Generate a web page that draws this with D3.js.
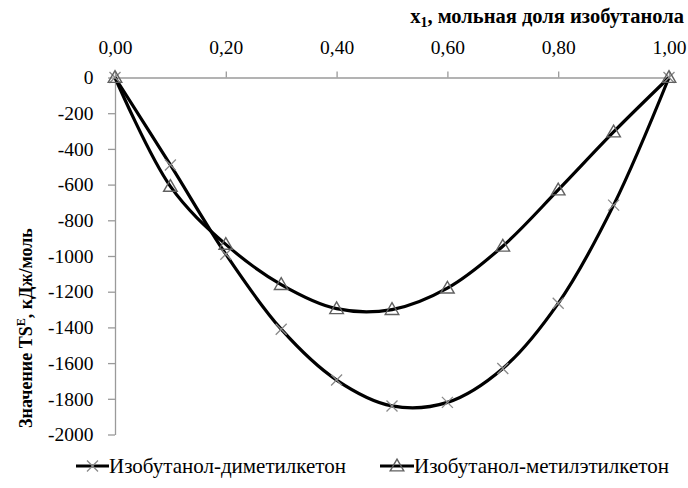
<!DOCTYPE html>
<html>
<head>
<meta charset="utf-8">
<script src="https://cdn.jsdelivr.net/npm/d3@7"></script>
<style>
  html, body { margin: 0; padding: 0; background: #fff; }
  svg { display: block; }
  text { font-family: "Liberation Serif", "Times New Roman", serif; fill: #000; }
</style>
</head>
<body>
<svg id="chart" width="688" height="488"></svg>
<script>
// Mole fraction of isobutanol
const x1 = [0, 0.1, 0.2, 0.3, 0.4, 0.5, 0.6, 0.7, 0.8, 0.9, 1.0];
// TS^E values, J/mol
const dimethylketone = [0, -490, -990, -1410, -1695, -1840, -1820, -1630, -1265, -715, 0];
const methylethylketone = [0, -610, -935, -1160, -1295, -1300, -1180, -945, -630, -305, 0];

const seriesNames = ["Изобутанол-диметилкетон", "Изобутанол-метилэтилкетон"];
const xTicks = [0, 0.2, 0.4, 0.6, 0.8, 1.0];
const yTicks = [0, -200, -400, -600, -800, -1000, -1200, -1400, -1600, -1800, -2000];

const svg = d3.select("#chart");
const plotLeft = 115, plotRight = 669, plotTop = 77.5, plotBottom = 434.5;

const x = d3.scaleLinear().domain([0, 1]).range([plotLeft, plotRight]);
const y = d3.scaleLinear().domain([0, -2000]).range([plotTop, plotBottom]);

const fmt = v => d3.format(".2f")(v).replace(".", ",");
const axisColor = "#9a9a9a";

// top x axis (value 0 line)
const gx = svg.append("g").attr("transform", `translate(0,${plotTop})`)
  .attr("font-family", "Liberation Serif")
  .call(d3.axisTop(x).tickValues(xTicks).tickFormat(fmt).tickSize(6).tickSizeOuter(0));
gx.attr("font-family", "Liberation Serif");
gx.select(".domain").attr("stroke", axisColor).attr("stroke-width", 1.3);
gx.selectAll(".tick line").attr("stroke", axisColor).attr("stroke-width", 1.3);
gx.selectAll(".tick text").attr("font-size", 19.5).attr("y", -24).attr("dy", 0);

// left y axis
const gy = svg.append("g").attr("transform", `translate(${plotLeft},0)`)
  .call(d3.axisLeft(y).tickValues(yTicks).tickFormat(d3.format("d")).tickSize(7).tickSizeOuter(0));
gy.attr("font-family", "Liberation Serif");
gy.select(".domain").attr("stroke", axisColor).attr("stroke-width", 1.3);
gy.selectAll(".tick line").attr("stroke", axisColor).attr("stroke-width", 1.3);
gy.selectAll(".tick text").attr("font-size", 19.5)
  .attr("x", -21.5).text(d => String(d));

// axis titles
const xt = svg.append("text").attr("x", 684).attr("y", 23).attr("text-anchor", "end")
  .attr("font-size", 20.5).attr("font-weight", "bold");
xt.append("tspan").text("x");
xt.append("tspan").attr("font-size", 14).attr("dy", 4).text("1");
xt.append("tspan").attr("dy", -4).text(", мольная доля изобутанола");

const yt = svg.append("text").attr("transform", "translate(32,328) rotate(-90)")
  .attr("text-anchor", "middle").attr("font-size", 18).attr("font-weight", "bold");
yt.append("tspan").text("Значение TS");
yt.append("tspan").attr("font-size", 12).attr("dy", -7).text("E");
yt.append("tspan").attr("dy", 7).text(", кДж/моль");

// curves
const line = d3.line().x(d => x(d[0])).y(d => y(d[1])).curve(d3.curveCatmullRom.alpha(0.5));
const series = [dimethylketone, methylethylketone];
series.forEach(vals => {
  svg.append("path").datum(x1.map((v, i) => [v, vals[i]]))
    .attr("d", line).attr("fill", "none").attr("stroke", "#000").attr("stroke-width", 3.2);
});

const markerColor = "#8a8a8a";
const crossPath = "M-5.5,-5.5L5.5,5.5M-5.5,5.5L5.5,-5.5";
const triPath = d3.symbol(d3.symbolTriangle, 80)();

function drawCross(g, cx, cy) {
  g.append("path").attr("d", crossPath).attr("transform", `translate(${cx},${cy})`)
    .attr("stroke", markerColor).attr("stroke-width", 1.3).attr("fill", "none");
}
function drawTri(g, cx, cy) {
  g.append("path").attr("d", triPath).attr("transform", `translate(${cx},${cy + 1})`)
    .attr("stroke", "#606060").attr("stroke-width", 1.4).attr("fill", "none");
}

const gm = svg.append("g");
x1.forEach((v, i) => drawCross(gm, x(v), y(dimethylketone[i])));
x1.forEach((v, i) => drawTri(gm, x(v), y(methylethylketone[i])));

// legend
const ly = 466;
const lg = svg.append("g");
lg.append("line").attr("x1", 76).attr("x2", 109).attr("y1", ly).attr("y2", ly)
  .attr("stroke", "#000").attr("stroke-width", 3.2);
drawCross(lg, 92.5, ly);
lg.append("text").attr("x", 109).attr("y", ly + 7).attr("font-size", 21).text(seriesNames[0]);

lg.append("line").attr("x1", 380).attr("x2", 414).attr("y1", ly).attr("y2", ly)
  .attr("stroke", "#000").attr("stroke-width", 3.2);
drawTri(lg, 397, ly);
lg.append("text").attr("x", 414).attr("y", ly + 7).attr("font-size", 21).text(seriesNames[1]);
</script>
</body>
</html>
